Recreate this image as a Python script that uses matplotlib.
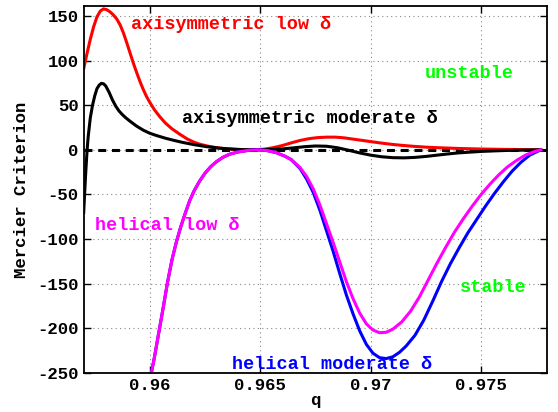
import matplotlib
matplotlib.use("Agg")
import matplotlib.pyplot as plt

plt.rcParams['font.family'] = ['Liberation Mono', 'DejaVu Sans Mono']
plt.rcParams['font.weight'] = 'bold'
plt.rcParams['axes.unicode_minus'] = False

# --- data ---
q_axi_low = [0.95700, 0.95715, 0.95730, 0.95745, 0.95760, 0.95775, 0.95790, 0.95805,
             0.95820, 0.95835, 0.95850, 0.95865, 0.95880, 0.95895, 0.95910, 0.95925,
             0.95940, 0.95955, 0.95970, 0.95985, 0.96000, 0.96020, 0.96045, 0.96070,
             0.96100, 0.96135, 0.96170, 0.96200, 0.96230, 0.96270, 0.96320, 0.96370,
             0.96420, 0.96470, 0.96520, 0.96560, 0.96600, 0.96640, 0.96680, 0.96720,
             0.96760, 0.96800, 0.96840, 0.96880, 0.96920, 0.96960, 0.97000, 0.97050,
             0.97100, 0.97150, 0.97200, 0.97250, 0.97300, 0.97400, 0.97500, 0.97600,
             0.97700, 0.97770]
m_axi_low = [91, 108, 124, 138, 149, 155.5, 158, 157,
             154.5, 151, 146.5, 140, 131, 120, 108.5, 97,
             86.5, 76.5, 67.5, 59.5, 53, 45, 37, 30,
             23.5, 17.5, 12, 8.5, 6, 3.7, 1.8, 0.8,
             0.2, 0, 0.8, 2.5, 4.8, 7.8, 10.5, 12.5,
             13.7, 14.2, 14.2, 13.4, 12, 10.6, 9.2, 7.5,
             6, 4.8, 3.8, 3, 2.4, 1.5, 0.9, 0.5,
             0.2, 0]

q_axi_mod = [0.95700, 0.95705, 0.95710, 0.95715, 0.95720, 0.95730, 0.95740, 0.95750,
             0.95760, 0.95770, 0.95780, 0.95790, 0.95800, 0.95815, 0.95830, 0.95845,
             0.95860, 0.95875, 0.95890, 0.95910, 0.95940, 0.95970, 0.96000, 0.96030,
             0.96070, 0.96110, 0.96150, 0.96200, 0.96250, 0.96300, 0.96350, 0.96400,
             0.96450, 0.96500, 0.96550, 0.96600, 0.96650, 0.96700, 0.96750, 0.96800,
             0.96850, 0.96900, 0.96950, 0.97000, 0.97050, 0.97100, 0.97150, 0.97200,
             0.97250, 0.97300, 0.97350, 0.97400, 0.97500, 0.97600, 0.97700, 0.97770]
m_axi_mod = [-70, -45, -22, -2, 14, 36, 50, 60.5,
             68.5, 72.5, 74.5, 74, 71.5, 64.5, 56, 49,
             43.5, 39.5, 36, 32, 26.5, 22, 18.5, 16,
             13, 10.5, 8.2, 5.8, 3.8, 2.2, 1.1, 0.4,
             0, 0.1, 0.4, 1, 2.2, 3.5, 4.3, 4,
             2.3, -0.5, -3.5, -6, -7.8, -8.8, -9, -8.5,
             -7.4, -6, -4.6, -3.4, -1.8, -0.8, -0.3, 0]

# helical curves coincide up to q ~ 0.9664
q_hel_common = [0.96000, 0.96020, 0.96040, 0.96060, 0.96080, 0.96100, 0.96120, 0.96140,
                0.96160, 0.96180, 0.96200, 0.96225, 0.96250, 0.96275, 0.96300, 0.96330,
                0.96360, 0.96400, 0.96450, 0.96490, 0.96530, 0.96570, 0.96610, 0.96640]
m_hel_common = [-258, -233, -205, -177, -148, -123, -103, -86,
                -71, -57, -46, -35, -26, -19, -13.5, -8.5,
                -5, -2.3, -0.5, 0, -0.8, -3, -7, -11]

q_hel_low_tail = [0.96680, 0.96710, 0.96740, 0.96770, 0.96800, 0.96830, 0.96860, 0.96890,
                  0.96920, 0.96950, 0.96980, 0.97010, 0.97040, 0.97070, 0.97100, 0.97140,
                  0.97180, 0.97220, 0.97260, 0.97300, 0.97340, 0.97380, 0.97420, 0.97460,
                  0.97500, 0.97540, 0.97580, 0.97620, 0.97660, 0.97700, 0.97740, 0.97770]
m_hel_low_tail = [-20, -30, -44, -62, -83, -104, -126, -148,
                  -167, -183, -195, -202, -205, -204.5, -201, -193,
                  -181, -165, -146, -127, -109, -92, -77, -63,
                  -50, -38.5, -28, -19, -12, -6, -2, 0]

q_hel_mod_tail = [0.96680, 0.96710, 0.96740, 0.96770, 0.96800, 0.96830, 0.96860, 0.96890,
                  0.96920, 0.96950, 0.96980, 0.97010, 0.97040, 0.97070, 0.97100, 0.97130,
                  0.97160, 0.97200, 0.97240, 0.97280, 0.97320, 0.97360, 0.97400, 0.97440,
                  0.97480, 0.97520, 0.97560, 0.97600, 0.97640, 0.97680, 0.97720, 0.97770]
m_hel_mod_tail = [-21, -33, -48, -68, -91, -114, -139, -163,
                  -184, -203, -218, -228, -233, -234, -232, -227,
                  -220, -208, -191, -170, -148, -128, -110, -93,
                  -78, -63, -49, -36, -24, -14, -6, 0]

q_zero = [0.957, 0.978]
m_zero = [0, 0]

xticks = [0.96, 0.965, 0.97, 0.975]
xticklabels = ['0.96', '0.965', '0.97', '0.975']
yticks = [-250, -200, -150, -100, -50, 0, 50, 100, 150]

# --- figure ---
fig = plt.figure(figsize=(5.58, 4.12), dpi=100)
ax = fig.add_axes([0.150, 0.095, 0.831, 0.890])

lw = 2.2
ax.plot(q_zero, m_zero, color='black', lw=lw, linestyle=(0, (2.6, 1.9)))
ax.plot(q_axi_low, m_axi_low, color='red', lw=lw)
ax.plot(q_axi_mod, m_axi_mod, color='black', lw=lw)
ax.plot(q_hel_common + q_hel_mod_tail, m_hel_common + m_hel_mod_tail, color='blue', lw=lw)
ax.plot(q_hel_common + q_hel_low_tail, m_hel_common + m_hel_low_tail, color='magenta', lw=lw)

ax.set_xlim(0.957, 0.978)
ax.set_ylim(-250, 161)
ax.set_xticks(xticks)
ax.set_xticklabels(xticklabels)
ax.set_yticks(yticks)

ax.grid(True, color='#888888', linestyle=(0, (1, 3)), linewidth=0.8)
ax.tick_params(direction='in', top=True, right=True, length=5, width=1, labelsize=12.5)
for s in ax.spines.values():
    s.set_linewidth(1.3)

ax.set_xlabel('q', fontsize=12.5, fontweight='bold', labelpad=0)
ax.set_ylabel('Mercier Criterion', fontsize=12.5, fontweight='bold', labelpad=6)

fs = 13.3
green = '#00ff00'
ax.text(0.95913, 140, 'axisymmetric low δ', color='red', fontsize=fs, va='center', ha='left')
ax.text(0.96144, 35, 'axisymmetric moderate δ', color='black', fontsize=fs, va='center', ha='left')
ax.text(0.97245, 86, 'unstable', color=green, fontsize=fs, va='center', ha='left')
ax.text(0.95751, -85, 'helical low δ', color='magenta', fontsize=fs, va='center', ha='left')
ax.text(0.96370, -241, 'helical moderate δ', color='blue', fontsize=fs, va='center', ha='left')
ax.text(0.97403, -154, 'stable', color=green, fontsize=fs, va='center', ha='left')

fig.savefig('out.png', dpi=100)
